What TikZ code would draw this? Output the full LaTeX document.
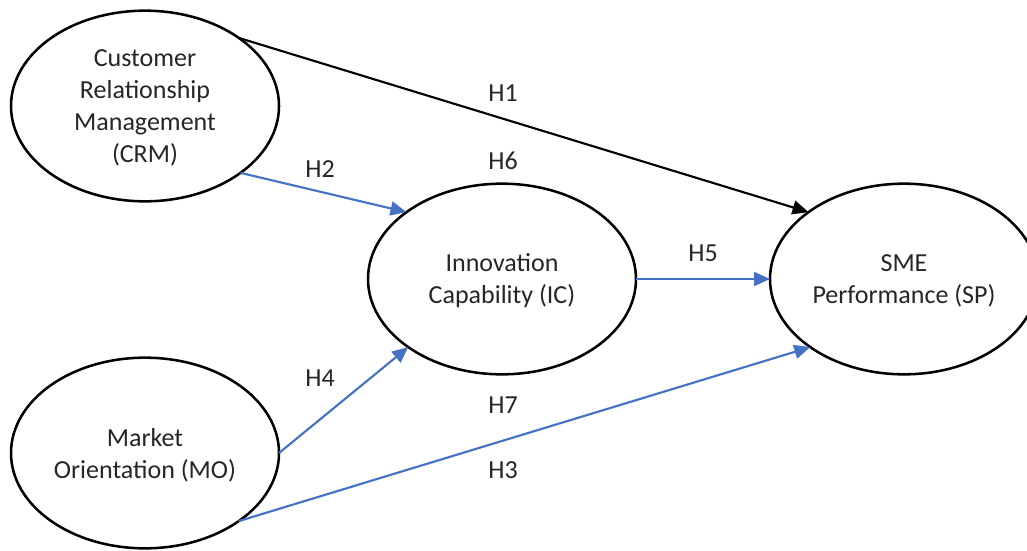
\documentclass[tikz,border=0pt]{standalone}
\usepackage{fontspec}
\setmainfont{Carlito}
\usetikzlibrary{arrows.meta,shapes.geometric}
\definecolor{linkblue}{RGB}{68,114,196}
\definecolor{txt}{RGB}{38,38,38}
\tikzset{
  construct/.style={draw=black, line width=1.9pt, ellipse, minimum width=201pt, minimum height=143pt,
    inner sep=0pt, outer sep=0pt, align=center, text=txt, text depth=0pt,
    font=\fontsize{19.5pt}{24pt}\selectfont},
  link/.style={draw=linkblue, line width=1.6pt, -{Triangle[length=12pt,width=10.5pt]}},
  blacklink/.style={draw=black, line width=1.6pt, -{Triangle[length=12pt,width=10.5pt]}},
  hlabel/.style={anchor=base, text=txt, inner sep=0pt, font=\fontsize{19.5pt}{24pt}\selectfont}
}
\begin{document}
\begin{tikzpicture}[x=0.75pt,y=-0.75pt]
\clip (0,0) rectangle (1027,550);
\fill[white] (0,0) rectangle (1027,550);
\node[construct] (crm) at (145,106) {Customer\\Relationship\\Management\\(CRM)};
\node[construct] (mo) at (145,453) {Market\\Orientation (MO)};
\node[construct] (ic) at (502,279) {Innovation\\Capability (IC)};
\node[construct] (sp) at (904,279) {SME\\Performance (SP)};
\draw[blacklink] (crm.36) -- (sp.145.5);
\draw[link] (crm.-35) -- (ic.145);
\draw[link] (ic.east) -- (sp.west);
\draw[link] (mo.east) -- (ic.216);
\draw[link] (mo.-36) -- (sp.216);
\node[hlabel] (h1) at (503,101) {H1};
\node[hlabel] (h6) at (503,169) {H6};
\node[hlabel] (h2) at (320,177) {H2};
\node[hlabel] (h5) at (703,261) {H5};
\node[hlabel] (h4) at (320,386) {H4};
\node[hlabel] (h7) at (503,413) {H7};
\node[hlabel] (h3) at (503,478) {H3};
\end{tikzpicture}
\end{document}
